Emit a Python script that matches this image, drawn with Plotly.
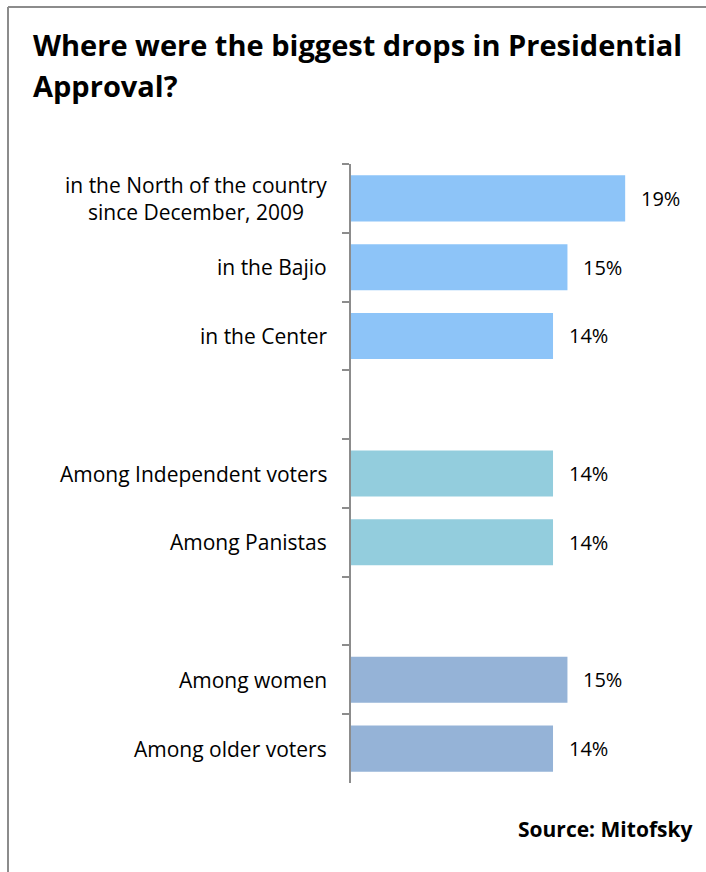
import plotly.graph_objects as go

categories = [
    "in the North of the country<br>since December, 2009",
    "in the Bajio",
    "in the Center",
    " ",
    "Among Independent voters",
    "Among Panistas",
    "  ",
    "Among women",
    "Among older voters",
]
values = [19, 15, 14, None, 14, 14, None, 15, 14]
colors = ["#8DC4F8", "#8DC4F8", "#8DC4F8", "#FFFFFF",
          "#93CDDD", "#93CDDD", "#FFFFFF",
          "#95B3D7", "#95B3D7"]
title_lines = ["Where were the biggest drops in Presidential", "Approval?"]
source_text = "Source: Mitofsky"

W, H = 706, 872
L, R, T, B = 351, 6, 164, 89
PW, PH = W - L - R, H - T - B
FONT = "Open Sans"


def px2x(px):
    return (px - L) / PW


def py2y(py):
    return (H - B - py) / PH


fig = go.Figure()
fig.add_trace(go.Bar(
    x=values, y=categories, orientation="h",
    marker=dict(color=colors, line=dict(width=0)),
    width=0.67, hoverinfo="skip",
))

annotations = []
for cat, val in zip(categories, values):
    if cat.strip():
        annotations.append(dict(
            x=0, xref="paper", y=cat, yref="y", xanchor="right", xshift=-22,
            align="center", text=cat, showarrow=False,
            font=dict(family=FONT, size=21, color="#000000"),
        ))
    if val is not None:
        annotations.append(dict(
            x=val, xref="x", y=cat, yref="y", xanchor="left", xshift=14,
            text=f"{val}%", showarrow=False,
            font=dict(family=FONT, size=20, color="#000000"),
        ))

for i, line in enumerate(title_lines):
    annotations.append(dict(
        x=px2x(31), xref="paper", y=py2y(45 + 40 * i), yref="paper",
        xanchor="left", yanchor="middle", text=f"<b>{line}</b>",
        showarrow=False, font=dict(family=FONT, size=29, color="#000000"),
    ))

annotations.append(dict(
    x=px2x(694), xref="paper", y=py2y(829), yref="paper",
    xanchor="right", yanchor="middle", text=f"<b>{source_text}</b>",
    showarrow=False, font=dict(family=FONT, size=21, color="#000000"),
))

shapes = [
    dict(type="line", xref="paper", yref="paper",
         x0=px2x(8), y0=py2y(7), x1=px2x(710), y1=py2y(7),
         line=dict(color="#8C8C8C", width=2)),
    dict(type="line", xref="paper", yref="paper",
         x0=px2x(8), y0=py2y(7), x1=px2x(8), y1=py2y(880),
         line=dict(color="#8C8C8C", width=2)),
]

fig.update_layout(
    width=W, height=H,
    margin=dict(l=L, r=R, t=T, b=B, pad=0),
    paper_bgcolor="white", plot_bgcolor="white",
    showlegend=False,
    annotations=annotations,
    shapes=shapes,
    bargap=0.33,
    xaxis=dict(range=[0, PW / 14.43], visible=False, fixedrange=True),
    yaxis=dict(
        categoryorder="array", categoryarray=categories,
        autorange="reversed",
        showticklabels=False,
        tickson="boundaries",
        ticks="outside", ticklen=7, tickwidth=2, tickcolor="#8C8C8C",
        showline=True, linecolor="#8C8C8C", linewidth=2,
        showgrid=False, zeroline=False, fixedrange=True,
    ),
)

fig.write_html(
    "out.html",
    config={"displayModeBar": False},
    post_script="document.body.style.margin='0';document.body.style.overflow='hidden';",
)
